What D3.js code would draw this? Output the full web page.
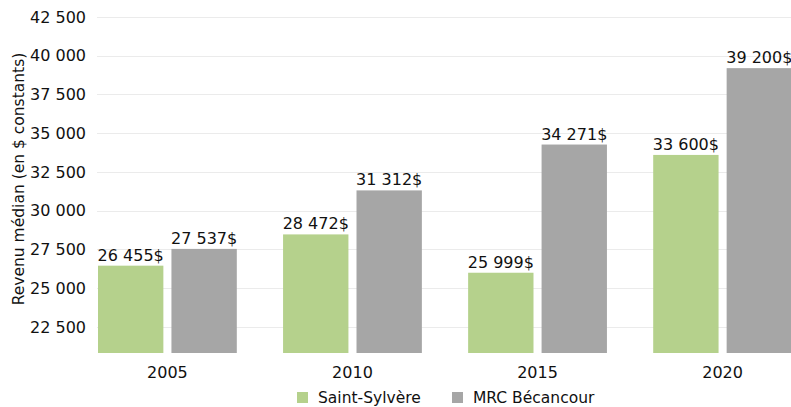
<!DOCTYPE html>
<html>
<head>
<meta charset="utf-8">
<script src="https://cdn.jsdelivr.net/npm/d3@7"></script>
<style>
  body { margin: 0; background: #fff; }
  text { font-family: "DejaVu Sans", sans-serif; }
</style>
</head>
<body>
<div id="chart"></div>
<script>
// Data
const years = ["2005", "2010", "2015", "2020"];
const series = ["Saint-Sylvère", "MRC Bécancour"];
const saintSylvere = [26455, 28472, 25999, 33600];
const mrcBecancour = [27537, 31312, 34271, 39200];
const yTicks = [22500, 25000, 27500, 30000, 32500, 35000, 37500, 40000, 42500];
const colors = ["#b5d18c", "#a6a6a6"];

const width = 791, height = 407;
const margin = { top: 17, right: 0, bottom: 54, left: 98 };

const svg = d3.select("#chart").append("svg")
  .attr("width", width)
  .attr("height", height);

const x0 = d3.scaleBand()
  .domain(years)
  .range([margin.left, 792])
  .paddingInner(0.25)
  .paddingOuter(0);

const x1 = d3.scaleBand()
  .domain(series)
  .range([0, x0.bandwidth()])
  .paddingInner(0.11);

const y = d3.scaleLinear()
  .domain([20820, 42500])
  .range([height - margin.bottom, margin.top]);

const fmt = v => d3.format(",")(v).replace(/,/g, " ");

// Grid lines
svg.append("g")
  .selectAll("line")
  .data(yTicks)
  .join("line")
  .attr("x1", 97)
  .attr("x2", width)
  .attr("y1", d => Math.round(y(d)) + 0.5)
  .attr("y2", d => Math.round(y(d)) + 0.5)
  .attr("stroke", "#ebebeb")
  .attr("stroke-width", 1);

// Y axis labels
svg.append("g")
  .selectAll("text")
  .data(yTicks)
  .join("text")
  .attr("x", 86)
  .attr("y", d => y(d))
  .attr("dy", "0.35em")
  .attr("text-anchor", "end")
  .attr("font-size", 16)
  .attr("fill", "#111")
  .text(d => fmt(d));

// Y title
svg.append("text")
  .attr("transform", "translate(24, 179) rotate(-90)")
  .attr("text-anchor", "middle")
  .attr("font-size", 15.5)
  .attr("fill", "#111")
  .text("Revenu médian (en $ constants)");

// Bars
const rows = years.map((yr, i) => ({ year: yr, values: [saintSylvere[i], mrcBecancour[i]] }));

const groups = svg.append("g")
  .selectAll("g")
  .data(rows)
  .join("g")
  .attr("transform", d => `translate(${x0(d.year)},0)`);

groups.selectAll("rect")
  .data(d => d.values.map((v, j) => ({ key: series[j], value: v, j })))
  .join("rect")
  .attr("x", d => x1(d.key))
  .attr("width", x1.bandwidth())
  .attr("y", d => y(d.value))
  .attr("height", d => y.range()[0] - y(d.value))
  .attr("fill", d => colors[d.j]);

groups.selectAll("text.val")
  .data(d => d.values.map((v, j) => ({ key: series[j], value: v, j })))
  .join("text")
  .attr("class", "val")
  .attr("x", d => x1(d.key) + x1.bandwidth() / 2)
  .attr("y", d => y(d.value) - 5)
  .attr("text-anchor", "middle")
  .attr("font-size", 16)
  .attr("fill", "#111")
  .text(d => fmt(d.value) + "$");

// X labels
svg.append("g")
  .selectAll("text")
  .data(years)
  .join("text")
  .attr("x", d => x0(d) + x0.bandwidth() / 2)
  .attr("y", 378)
  .attr("text-anchor", "middle")
  .attr("font-size", 16)
  .attr("fill", "#111")
  .text(d => d);

// Legend
const legendX = [297, 452];
const legend = svg.append("g")
  .selectAll("g")
  .data(series)
  .join("g")
  .attr("transform", (d, i) => `translate(${legendX[i]}, 392)`);

legend.append("rect")
  .attr("width", 11)
  .attr("height", 11)
  .attr("fill", (d, i) => colors[i]);

legend.append("text")
  .attr("x", 21)
  .attr("y", 6)
  .attr("dy", "0.35em")
  .attr("font-size", 15.5)
  .attr("fill", "#111")
  .text(d => d);
</script>
</body>
</html>
